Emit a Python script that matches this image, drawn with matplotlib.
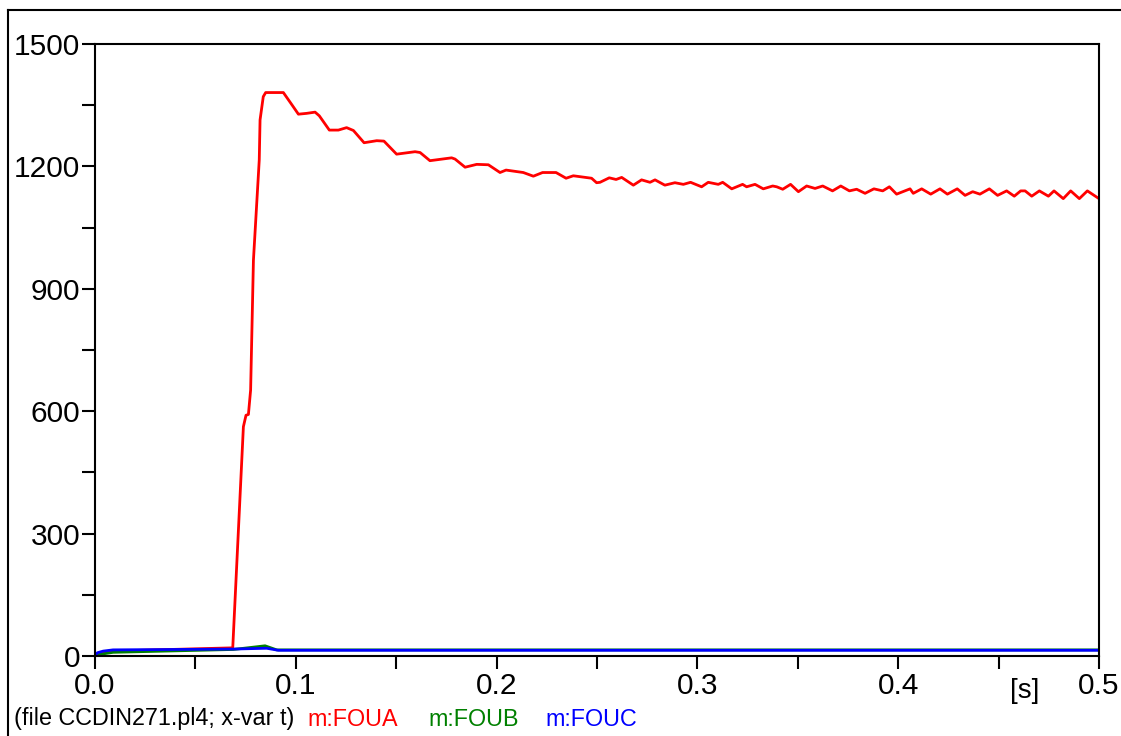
import matplotlib.pyplot as plt
from matplotlib.lines import Line2D
from matplotlib.ticker import MultipleLocator

plt.rcParams['font.family'] = ['Liberation Sans', 'DejaVu Sans']

# m:FOUA (red)
t_a = [0.0, 0.0025, 0.009, 0.03, 0.0686, 0.0739, 0.0752, 0.0764, 0.0775, 0.0789,
       0.0818, 0.0822, 0.0838, 0.0850, 0.0938, 0.0975, 0.1013, 0.1054, 0.1096, 0.1117,
       0.1167, 0.1212, 0.1253, 0.1287, 0.1340, 0.1403, 0.1439, 0.1502, 0.1594, 0.1619,
       0.1668, 0.1776, 0.1793, 0.1843, 0.1901, 0.1959, 0.2017, 0.2047, 0.2133, 0.2183,
       0.2229, 0.2296, 0.2346, 0.2382, 0.2473, 0.2498, 0.2515, 0.2561, 0.2595, 0.2623,
       0.2681, 0.2722, 0.2764, 0.2789, 0.2838, 0.2888, 0.2930, 0.2966, 0.3021, 0.3054,
       0.3104, 0.3126, 0.3171, 0.3225, 0.3245, 0.3287, 0.3328, 0.3375, 0.3395, 0.3425,
       0.3464, 0.3503, 0.3544, 0.3586, 0.3624, 0.3673, 0.3714, 0.3757, 0.3793, 0.3835,
       0.3879, 0.3923, 0.3956, 0.3992, 0.4059, 0.4075, 0.4117, 0.4162, 0.4208, 0.4245,
       0.4294, 0.4333, 0.4371, 0.4407, 0.4454, 0.4495, 0.4540, 0.4578, 0.4610, 0.4632,
       0.4665, 0.4703, 0.4748, 0.4776, 0.4822, 0.4859, 0.4902, 0.4942, 0.5]
v_a = [0, 6, 12, 15, 20, 562, 590, 592, 652, 970,
       1216, 1314, 1371, 1381, 1381, 1355, 1328, 1330, 1333, 1324,
       1289, 1289, 1295, 1288, 1258, 1263, 1262, 1230, 1236, 1234,
       1214, 1221, 1218, 1198, 1205, 1204, 1185, 1191, 1185, 1176,
       1185, 1185, 1171, 1177, 1171, 1160, 1161, 1172, 1168, 1173,
       1154, 1167, 1161, 1167, 1154, 1160, 1156, 1161, 1150, 1161,
       1156, 1161, 1145, 1156, 1150, 1156, 1145, 1152, 1150, 1144,
       1156, 1138, 1152, 1146, 1152, 1140, 1152, 1140, 1144, 1134,
       1145, 1140, 1150, 1132, 1145, 1134, 1145, 1132, 1145, 1132,
       1145, 1129, 1138, 1132, 1145, 1129, 1140, 1127, 1140, 1140,
       1127, 1140, 1127, 1140, 1121, 1140, 1121, 1140, 1121]

# m:FOUB (green)
t_b = [0.0, 0.0025, 0.009, 0.0689, 0.0847, 0.0905, 0.5]
v_b = [0, 4, 9, 16, 25, 15, 15]

# m:FOUC (blue)
t_c = [0.0, 0.0012, 0.0041, 0.009, 0.0689, 0.0855, 0.0913, 0.5]
v_c = [0, 8, 12, 15, 17, 19, 14, 14]

fig = plt.figure(figsize=(11.21, 7.36), dpi=100)
ax = fig.add_axes([95 / 1121, 80 / 736, 1004 / 1121, 612 / 736])

ax.plot(t_a, v_a, color='#ff0000', lw=2)
ax.plot(t_b, v_b, color='#008000', lw=2)
ax.plot(t_c, v_c, color='#0000ff', lw=2)

ax.set_xlim(0, 0.5)
ax.set_ylim(0, 1500)
ax.xaxis.set_major_locator(MultipleLocator(0.1))
ax.xaxis.set_minor_locator(MultipleLocator(0.05))
ax.yaxis.set_major_locator(MultipleLocator(300))
ax.yaxis.set_minor_locator(MultipleLocator(150))
ax.xaxis.set_major_formatter(lambda x, p: f'{x:.1f}')
ax.yaxis.set_major_formatter(lambda y, p: f'{y:.0f}')
ax.tick_params(which='both', direction='out', length=9.5, width=1.5, colors='black')
ax.tick_params(axis='y', which='major', labelsize=21.5, pad=1)
ax.tick_params(axis='x', which='major', labelsize=21.5, pad=2)
for s in ax.spines.values():
    s.set_linewidth(1.5)

fig.text(1025 / 1121, 1 - 691 / 736, '[s]', fontsize=20, ha='center', va='center')

# legend line at the bottom
y_leg = 1 - 719 / 736
fig.text(14 / 1121, y_leg, '(file CCDIN271.pl4; x-var t)', fontsize=16.8, va='center')
fig.text(307 / 1121, y_leg, 'm:FOUA', fontsize=16.8, va='center', color='#ff0000')
fig.text(428 / 1121, y_leg, 'm:FOUB', fontsize=16.8, va='center', color='#008000')
fig.text(545 / 1121, y_leg, 'm:FOUC', fontsize=16.8, va='center', color='#0000ff')

# outer frame
fig.add_artist(Line2D([8 / 1121, 8 / 1121], [0, 1 - 10 / 736], color='black', lw=1.5))
fig.add_artist(Line2D([8 / 1121, 1.0], [1 - 10 / 736, 1 - 10 / 736], color='black', lw=1.5))

fig.savefig('out.png', dpi=100)
